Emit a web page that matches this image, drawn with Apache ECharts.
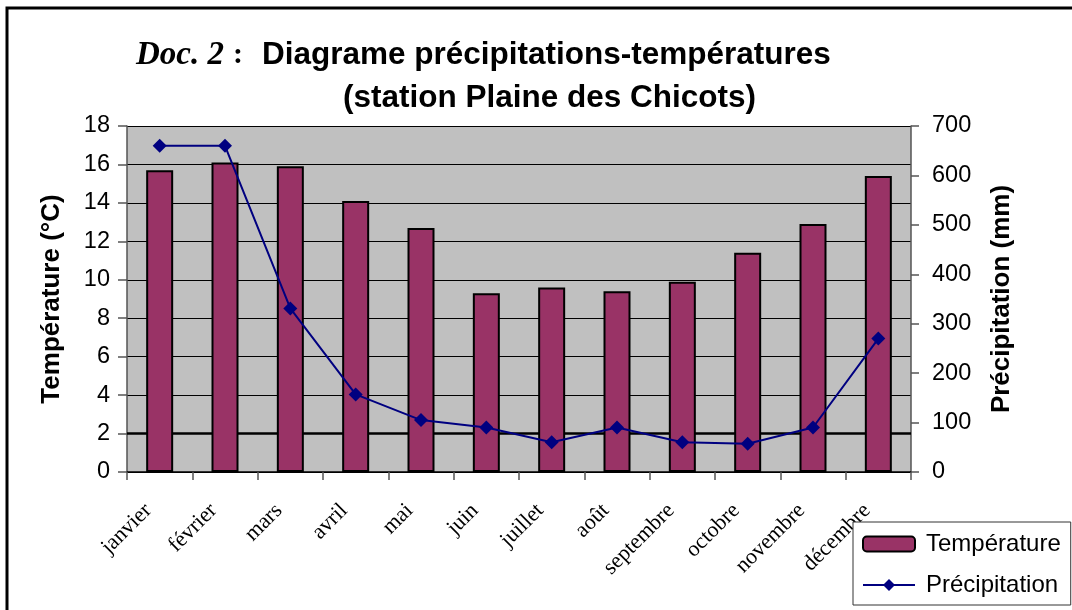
<!DOCTYPE html>
<html>
<head>
<meta charset="utf-8">
<script src="https://cdn.jsdelivr.net/npm/echarts@6/dist/echarts.min.js"></script>
<style>
html,body{margin:0;padding:0;background:#fff;}
#chart{width:1072px;height:610px;}
</style>
</head>
<body>
<div id="chart"></div>
<script>
var months = ['janvier','février','mars','avril','mai','juin','juillet','août','septembre','octobre','novembre','décembre'];
var temperature = [15.7, 16.1, 15.9, 14.1, 12.7, 9.3, 9.6, 9.4, 9.9, 11.4, 12.9, 15.4];
var precipitation = [660, 660, 331, 157, 105, 90, 60, 90, 60, 57, 90, 270];
var tempTicks = {min: 0, max: 18, interval: 2};
var precTicks = {min: 0, max: 700, interval: 100};

var chart = echarts.init(document.getElementById('chart'), null, {renderer: 'canvas'});
var sans = "'Liberation Sans', Arial, sans-serif";
var serif = "'Liberation Serif', 'Times New Roman', serif";

chart.setOption({
  animation: false,
  backgroundColor: '#fff',
  title: [
    {
      left: 131, top: 34,
      text: '{a|Doc. 2} {b|:} {c|Diagrame précipitations-températures}',
      textStyle: {
        rich: {
          a: {fontFamily: serif, fontStyle: 'italic', fontWeight: 'bold', fontSize: 33, color: '#000'},
          b: {fontFamily: serif, fontSize: 30, color: '#000', padding: [0, 14, 0, 4]},
          c: {fontFamily: sans, fontWeight: 'bold', fontSize: 31.5, color: '#000'}
        }
      }
    },
    {
      left: 338, top: 77,
      text: '(station Plaine des Chicots)',
      textStyle: {fontFamily: sans, fontWeight: 'bold', fontSize: 31.5, color: '#000'}
    }
  ],
  graphic: [
    {type: 'rect', shape: {x: 7, y: 8, width: 1080, height: 620}, style: {fill: 'none', stroke: '#000', lineWidth: 3}, z: 100, silent: true}
  ],
  legend: {
    orient: 'vertical',
    left: 853, top: 522,
    width: 218,
    backgroundColor: '#fff',
    borderColor: '#333', borderWidth: 1,
    padding: [10, 10, 8, 9],
    itemWidth: 52, itemHeight: 15, itemGap: 17,
    textStyle: {fontFamily: sans, fontSize: 24, color: '#000', padding: [0, 0, 0, 6]},
    data: ['Température', 'Précipitation']
  },
  grid: {
    left: 127, right: 161, top: 126, bottom: 138,
    show: true, backgroundColor: '#c0c0c0', borderWidth: 0
  },
  xAxis: {
    type: 'category',
    data: months,
    boundaryGap: true,
    axisLine: {lineStyle: {color: '#000', width: 1.5}},
    axisTick: {show: true, alignWithLabel: false, length: 8, lineStyle: {color: '#555', width: 1.5}},
    axisLabel: {rotate: 45, margin: 24, padding: [0, 16, 0, 0], fontFamily: serif, fontSize: 22, color: '#000', interval: 0}
  },
  yAxis: [
    {
      type: 'value',
      min: tempTicks.min, max: tempTicks.max, interval: tempTicks.interval,
      name: 'Température (°C)', nameLocation: 'middle', nameRotate: 90, nameGap: 62,
      nameTextStyle: {fontFamily: sans, fontWeight: 'bold', fontSize: 26, color: '#000'},
      axisLine: {show: true, lineStyle: {color: '#555', width: 1.5}},
      axisTick: {show: true, length: 9, lineStyle: {color: '#555', width: 1.5}},
      axisLabel: {margin: 17, fontFamily: sans, fontSize: 23.5, color: '#000'},
      splitLine: {show: true, lineStyle: {color: '#000', width: 1.2}}
    },
    {
      type: 'value',
      position: 'right',
      min: precTicks.min, max: precTicks.max, interval: precTicks.interval,
      name: 'Précipitation (mm)', nameLocation: 'middle', nameRotate: 90, nameGap: 78,
      nameTextStyle: {fontFamily: sans, fontWeight: 'bold', fontSize: 26, color: '#000'},
      axisLine: {show: true, lineStyle: {color: '#555', width: 1.5}},
      axisTick: {show: true, length: 8, lineStyle: {color: '#555', width: 1.5}},
      axisLabel: {margin: 21, fontFamily: sans, fontSize: 23.5, color: '#000'},
      splitLine: {show: false}
    }
  ],
  series: [
    {
      name: 'Température',
      type: 'bar',
      yAxisIndex: 0,
      data: temperature,
      barWidth: 27,
      itemStyle: {color: '#993366', borderColor: '#000', borderWidth: 2},
      markLine: {
        silent: true, symbol: 'none', label: {show: false},
        lineStyle: {color: '#000', width: 2.5, type: 'solid'},
        data: [{yAxis: 2}],
        z: 1
      }
    },
    {
      name: 'Précipitation',
      type: 'line',
      yAxisIndex: 1,
      data: precipitation,
      symbol: 'diamond', symbolSize: 14,
      lineStyle: {color: '#000080', width: 2},
      itemStyle: {color: '#000080'},
      z: 5
    }
  ]
});
</script>
</body>
</html>
